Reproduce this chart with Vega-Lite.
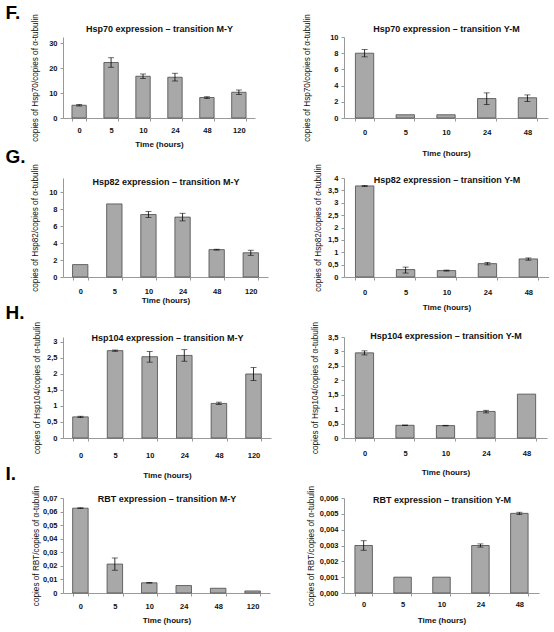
{
  "$schema": "https://vega.github.io/schema/vega-lite/v6.json",
  "padding": {"top": 3, "left": 5, "right": 0, "bottom": 0},
  "background": "white",
  "config": {
    "view": {"stroke": null},
    "font": "Liberation Sans",
    "axis": {"grid": false, "labelFont": "Liberation Sans", "labelFontWeight": "bold", "labelFontSize": 7.5, "labelColor": "#111", "titleFont": "Liberation Sans", "titleFontSize": 8.2, "titleColor": "#111", "domainColor": "#999", "tickColor": "#999", "labelOverlap": false, "labelFlush": false},
    "axisY": {"tickSize": 3, "labelPadding": 3, "titleFontWeight": "normal", "titleFontSize": 8.2},
    "axisX": {"ticks": true, "tickBand": "extent", "tickSize": 3, "labelAngle": 0, "titleFontWeight": "bold", "titleFont": "'Liberation Sans Narrow', 'Liberation Sans', sans-serif", "titleFontSize": 8},
    "axisTop": {"labels": false, "ticks": false, "domain": false, "titleBaseline": "alphabetic", "titleFont": "Liberation Sans", "titleFontSize": 9, "titleFontWeight": "bold", "titleColor": "#111"},
    "tick": {"color": "#000", "thickness": 0.8, "size": 6},
    "rule": {"color": "#000", "strokeWidth": 0.8}
  },
  "datasets": {
    "F1": [
      {"t": "0", "v": 5.1, "lo": 4.8, "hi": 5.4},
      {"t": "5", "v": 22.2, "lo": 20.3, "hi": 24.1},
      {"t": "10", "v": 16.7, "lo": 15.8, "hi": 17.6},
      {"t": "24", "v": 16.3, "lo": 14.8, "hi": 17.9},
      {"t": "48", "v": 8.2, "lo": 7.8, "hi": 8.5},
      {"t": "120", "v": 10.3, "lo": 9.4, "hi": 11.2}
    ],
    "F2": [
      {"t": "0", "v": 8.0, "lo": 7.55, "hi": 8.45},
      {"t": "5", "v": 0.4},
      {"t": "10", "v": 0.4},
      {"t": "24", "v": 2.4, "lo": 1.65, "hi": 3.1},
      {"t": "48", "v": 2.5, "lo": 2.05, "hi": 2.85}
    ],
    "G1": [
      {"t": "0", "v": 1.46},
      {"t": "5", "v": 8.6},
      {"t": "10", "v": 7.35, "lo": 7.0, "hi": 7.7},
      {"t": "24", "v": 7.05, "lo": 6.6, "hi": 7.5},
      {"t": "48", "v": 3.22, "lo": 3.17, "hi": 3.27},
      {"t": "120", "v": 2.85, "lo": 2.55, "hi": 3.15}
    ],
    "G2": [
      {"t": "0", "v": 3.68, "lo": 3.66, "hi": 3.7},
      {"t": "5", "v": 0.3, "lo": 0.16, "hi": 0.4},
      {"t": "10", "v": 0.26, "lo": 0.24, "hi": 0.28},
      {"t": "24", "v": 0.54, "lo": 0.49, "hi": 0.59},
      {"t": "48", "v": 0.73, "lo": 0.68, "hi": 0.77}
    ],
    "H1": [
      {"t": "0", "v": 0.66, "lo": 0.64, "hi": 0.68},
      {"t": "5", "v": 2.73, "lo": 2.71, "hi": 2.75},
      {"t": "10", "v": 2.54, "lo": 2.37, "hi": 2.7},
      {"t": "24", "v": 2.58, "lo": 2.4, "hi": 2.76},
      {"t": "48", "v": 1.08, "lo": 1.05, "hi": 1.12},
      {"t": "120", "v": 2.0, "lo": 1.8, "hi": 2.2}
    ],
    "H2": [
      {"t": "0", "v": 2.95, "lo": 2.88, "hi": 3.02},
      {"t": "5", "v": 0.44, "lo": 0.43, "hi": 0.45},
      {"t": "10", "v": 0.43, "lo": 0.42, "hi": 0.44},
      {"t": "24", "v": 0.92, "lo": 0.87, "hi": 0.96},
      {"t": "48", "v": 1.52}
    ],
    "I1": [
      {"t": "0", "v": 0.0625, "lo": 0.0622, "hi": 0.0628},
      {"t": "5", "v": 0.0213, "lo": 0.0168, "hi": 0.0258},
      {"t": "10", "v": 0.0075, "lo": 0.0073, "hi": 0.0077},
      {"t": "24", "v": 0.0055},
      {"t": "48", "v": 0.0035},
      {"t": "120", "v": 0.0015}
    ],
    "I2": [
      {"t": "0", "v": 0.003, "lo": 0.0027, "hi": 0.0033},
      {"t": "5", "v": 0.001},
      {"t": "10", "v": 0.001},
      {"t": "24", "v": 0.003, "lo": 0.0029, "hi": 0.0031},
      {"t": "48", "v": 0.00503, "lo": 0.00495, "hi": 0.0051}
    ]
  },
  "bounds": "flush",
  "columns": 2,
  "spacing": {"row": 60, "column": 73},
  "concat": [
    {
      "width": 192, "height": 81,
      "data": {"name": "F1"},
      "resolve": {"axis": {"x": "independent", "y": "independent"}},
      "layer": [
        {"mark": {"type": "bar", "fill": "#a8a8a8", "stroke": "#4a4a4a", "strokeWidth": 0.8},
         "encoding": {
           "x": {"field": "t", "type": "ordinal", "sort": null, "title": "Time (hours)", "scale": {"paddingInner": 0.55, "paddingOuter": 0.28}, "axis": {"labelPadding": 5, "titlePadding": 7}},
           "y": {"field": "v", "type": "quantitative", "title": "copies of Hsp70/copies of α-tubulin", "scale": {"domain": [0, 32.4], "nice": false}, "axis": {"values": [0, 10, 20, 30], "labelExpr": "replace(format(datum.value, '~g'), '.', ',')", "titlePadding": 9, "labelOverlap": false}}}},
        {"transform": [{"filter": "isValid(datum.lo)"}], "mark": "rule",
         "encoding": {"x": {"field": "t", "type": "ordinal", "sort": null, "axis": null}, "y": {"field": "lo", "type": "quantitative", "scale": {"domain": [0, 32.4], "nice": false}, "axis": null}, "y2": {"field": "hi"}}},
        {"transform": [{"filter": "isValid(datum.lo)"}], "mark": "tick",
         "encoding": {"x": {"field": "t", "type": "ordinal", "sort": null, "axis": null}, "y": {"field": "lo", "type": "quantitative", "scale": {"domain": [0, 32.4], "nice": false}, "axis": null}}},
        {"transform": [{"filter": "isValid(datum.lo)"}], "mark": "tick",
         "encoding": {"x": {"field": "t", "type": "ordinal", "sort": null, "axis": null}, "y": {"field": "hi", "type": "quantitative", "scale": {"domain": [0, 32.4], "nice": false}, "axis": null}}},
        {"mark": {"type": "point", "opacity": 0},
         "encoding": {"x": {"field": "t", "type": "ordinal", "sort": null, "axis": {"orient": "top", "title": "Hsp70 expression – transition M-Y", "titleY": -6}}, "y": {"field": "v", "type": "quantitative", "scale": {"domain": [0, 32.4], "nice": false}, "axis": null}}},
        {"mark": {"type": "point", "opacity": 0},
         "encoding": {"x": {"field": "t", "type": "ordinal", "sort": null, "axis": {"orient": "top", "title": "F.", "titleX": -58, "titleY": -19, "titleAlign": "left", "titleFontSize": 19, "titleColor": "#000"}}, "y": {"field": "v", "type": "quantitative", "scale": {"domain": [0, 32.4], "nice": false}, "axis": null}}}
      ]
    },
    {
      "width": 204, "height": 81,
      "data": {"name": "F2"},
      "resolve": {"axis": {"x": "independent", "y": "independent"}},
      "layer": [
        {"mark": {"type": "bar", "fill": "#a8a8a8", "stroke": "#4a4a4a", "strokeWidth": 0.8},
         "encoding": {
           "x": {"field": "t", "type": "ordinal", "sort": null, "title": "Time (hours)", "scale": {"paddingInner": 0.55, "paddingOuter": 0.28}, "axis": {"labelPadding": 7, "titlePadding": 14}},
           "y": {"field": "v", "type": "quantitative", "title": "copies of Hsp70/copies of α-tubulin", "scale": {"domain": [0, 10], "nice": false}, "axis": {"values": [0, 2, 4, 6, 8, 10], "labelExpr": "replace(format(datum.value, '~g'), '.', ',')", "titlePadding": 18, "labelOverlap": false}}}},
        {"transform": [{"filter": "isValid(datum.lo)"}], "mark": "rule",
         "encoding": {"x": {"field": "t", "type": "ordinal", "sort": null, "axis": null}, "y": {"field": "lo", "type": "quantitative", "scale": {"domain": [0, 10], "nice": false}, "axis": null}, "y2": {"field": "hi"}}},
        {"transform": [{"filter": "isValid(datum.lo)"}], "mark": "tick",
         "encoding": {"x": {"field": "t", "type": "ordinal", "sort": null, "axis": null}, "y": {"field": "lo", "type": "quantitative", "scale": {"domain": [0, 10], "nice": false}, "axis": null}}},
        {"transform": [{"filter": "isValid(datum.lo)"}], "mark": "tick",
         "encoding": {"x": {"field": "t", "type": "ordinal", "sort": null, "axis": null}, "y": {"field": "hi", "type": "quantitative", "scale": {"domain": [0, 10], "nice": false}, "axis": null}}},
        {"mark": {"type": "point", "opacity": 0},
         "encoding": {"x": {"field": "t", "type": "ordinal", "sort": null, "axis": {"orient": "top", "title": "Hsp70 expression – transition Y-M", "titleY": -6}}, "y": {"field": "v", "type": "quantitative", "scale": {"domain": [0, 10], "nice": false}, "axis": null}}}
      ]
    },
    {
      "width": 205, "height": 99,
      "data": {"name": "G1"},
      "resolve": {"axis": {"x": "independent", "y": "independent"}},
      "layer": [
        {"mark": {"type": "bar", "fill": "#a8a8a8", "stroke": "#4a4a4a", "strokeWidth": 0.8},
         "encoding": {
           "x": {"field": "t", "type": "ordinal", "sort": null, "title": "Time (hours)", "scale": {"paddingInner": 0.55, "paddingOuter": 0.28}, "axis": {"labelPadding": 7, "titlePadding": 2}},
           "y": {"field": "v", "type": "quantitative", "title": "copies of Hsp82/copies of α-tubulin", "scale": {"domain": [0, 11.65], "nice": false}, "axis": {"values": [0, 2, 4, 6, 8, 10], "labelExpr": "replace(format(datum.value, '~g'), '.', ',')", "titlePadding": 9, "labelOverlap": false}}}},
        {"transform": [{"filter": "isValid(datum.lo)"}], "mark": "rule",
         "encoding": {"x": {"field": "t", "type": "ordinal", "sort": null, "axis": null}, "y": {"field": "lo", "type": "quantitative", "scale": {"domain": [0, 11.65], "nice": false}, "axis": null}, "y2": {"field": "hi"}}},
        {"transform": [{"filter": "isValid(datum.lo)"}], "mark": "tick",
         "encoding": {"x": {"field": "t", "type": "ordinal", "sort": null, "axis": null}, "y": {"field": "lo", "type": "quantitative", "scale": {"domain": [0, 11.65], "nice": false}, "axis": null}}},
        {"transform": [{"filter": "isValid(datum.lo)"}], "mark": "tick",
         "encoding": {"x": {"field": "t", "type": "ordinal", "sort": null, "axis": null}, "y": {"field": "hi", "type": "quantitative", "scale": {"domain": [0, 11.65], "nice": false}, "axis": null}}},
        {"mark": {"type": "point", "opacity": 0},
         "encoding": {"x": {"field": "t", "type": "ordinal", "sort": null, "axis": {"orient": "top", "title": "Hsp82 expression – transition M-Y", "titleY": 6}}, "y": {"field": "v", "type": "quantitative", "scale": {"domain": [0, 11.65], "nice": false}, "axis": null}}},
        {"mark": {"type": "point", "opacity": 0},
         "encoding": {"x": {"field": "t", "type": "ordinal", "sort": null, "axis": {"orient": "top", "title": "G.", "titleX": -58, "titleY": -16, "titleAlign": "left", "titleFontSize": 19, "titleColor": "#000"}}, "y": {"field": "v", "type": "quantitative", "scale": {"domain": [0, 11.65], "nice": false}, "axis": null}}}
      ]
    },
    {
      "width": 205, "height": 99,
      "data": {"name": "G2"},
      "resolve": {"axis": {"x": "independent", "y": "independent"}},
      "layer": [
        {"mark": {"type": "bar", "fill": "#a8a8a8", "stroke": "#4a4a4a", "strokeWidth": 0.8},
         "encoding": {
           "x": {"field": "t", "type": "ordinal", "sort": null, "title": "Time (hours)", "scale": {"paddingInner": 0.55, "paddingOuter": 0.28}, "axis": {"labelPadding": 8, "titlePadding": 8}},
           "y": {"field": "v", "type": "quantitative", "title": "copies of Hsp82/copies of α-tubulin", "scale": {"domain": [0, 4], "nice": false}, "axis": {"values": [0, 0.5, 1, 1.5, 2, 2.5, 3, 3.5, 4], "labelExpr": "replace(format(datum.value, '~g'), '.', ',')", "titlePadding": 5, "labelOverlap": false}}}},
        {"transform": [{"filter": "isValid(datum.lo)"}], "mark": "rule",
         "encoding": {"x": {"field": "t", "type": "ordinal", "sort": null, "axis": null}, "y": {"field": "lo", "type": "quantitative", "scale": {"domain": [0, 4], "nice": false}, "axis": null}, "y2": {"field": "hi"}}},
        {"transform": [{"filter": "isValid(datum.lo)"}], "mark": "tick",
         "encoding": {"x": {"field": "t", "type": "ordinal", "sort": null, "axis": null}, "y": {"field": "lo", "type": "quantitative", "scale": {"domain": [0, 4], "nice": false}, "axis": null}}},
        {"transform": [{"filter": "isValid(datum.lo)"}], "mark": "tick",
         "encoding": {"x": {"field": "t", "type": "ordinal", "sort": null, "axis": null}, "y": {"field": "hi", "type": "quantitative", "scale": {"domain": [0, 4], "nice": false}, "axis": null}}},
        {"mark": {"type": "point", "opacity": 0},
         "encoding": {"x": {"field": "t", "type": "ordinal", "sort": null, "axis": {"orient": "top", "title": "Hsp82 expression – transition Y-M", "titleY": 4}}, "y": {"field": "v", "type": "quantitative", "scale": {"domain": [0, 4], "nice": false}, "axis": null}}}
      ]
    },
    {
      "width": 208, "height": 101,
      "data": {"name": "H1"},
      "resolve": {"axis": {"x": "independent", "y": "independent"}},
      "layer": [
        {"mark": {"type": "bar", "fill": "#a8a8a8", "stroke": "#4a4a4a", "strokeWidth": 0.8},
         "encoding": {
           "x": {"field": "t", "type": "ordinal", "sort": null, "title": "Time (hours)", "scale": {"paddingInner": 0.55, "paddingOuter": 0.28}, "axis": {"labelPadding": 10, "titlePadding": 13}},
           "y": {"field": "v", "type": "quantitative", "title": "copies of Hsp104/copies of α-tubulin", "scale": {"domain": [0, 3.156], "nice": false}, "axis": {"values": [0, 0.5, 1, 1.5, 2, 2.5, 3], "labelExpr": "replace(format(datum.value, '~g'), '.', ',')", "titlePadding": 5, "labelOverlap": false}}}},
        {"transform": [{"filter": "isValid(datum.lo)"}], "mark": "rule",
         "encoding": {"x": {"field": "t", "type": "ordinal", "sort": null, "axis": null}, "y": {"field": "lo", "type": "quantitative", "scale": {"domain": [0, 3.156], "nice": false}, "axis": null}, "y2": {"field": "hi"}}},
        {"transform": [{"filter": "isValid(datum.lo)"}], "mark": "tick",
         "encoding": {"x": {"field": "t", "type": "ordinal", "sort": null, "axis": null}, "y": {"field": "lo", "type": "quantitative", "scale": {"domain": [0, 3.156], "nice": false}, "axis": null}}},
        {"transform": [{"filter": "isValid(datum.lo)"}], "mark": "tick",
         "encoding": {"x": {"field": "t", "type": "ordinal", "sort": null, "axis": null}, "y": {"field": "hi", "type": "quantitative", "scale": {"domain": [0, 3.156], "nice": false}, "axis": null}}},
        {"mark": {"type": "point", "opacity": 0},
         "encoding": {"x": {"field": "t", "type": "ordinal", "sort": null, "axis": {"orient": "top", "title": "Hsp104 expression – transition M-Y", "titleY": 3}}, "y": {"field": "v", "type": "quantitative", "scale": {"domain": [0, 3.156], "nice": false}, "axis": null}}},
        {"mark": {"type": "point", "opacity": 0},
         "encoding": {"x": {"field": "t", "type": "ordinal", "sort": null, "axis": {"orient": "top", "title": "H.", "titleX": -58, "titleY": -19, "titleAlign": "left", "titleFontSize": 19, "titleColor": "#000"}}, "y": {"field": "v", "type": "quantitative", "scale": {"domain": [0, 3.156], "nice": false}, "axis": null}}}
      ]
    },
    {
      "width": 203, "height": 101,
      "data": {"name": "H2"},
      "resolve": {"axis": {"x": "independent", "y": "independent"}},
      "layer": [
        {"mark": {"type": "bar", "fill": "#a8a8a8", "stroke": "#4a4a4a", "strokeWidth": 0.8},
         "encoding": {
           "x": {"field": "t", "type": "ordinal", "sort": null, "title": "Time (hours)", "scale": {"paddingInner": 0.55, "paddingOuter": 0.28}, "axis": {"labelPadding": 8, "titlePadding": 12}},
           "y": {"field": "v", "type": "quantitative", "title": "copies of Hsp104/copies of α-tubulin", "scale": {"domain": [0, 3.5], "nice": false}, "axis": {"values": [0, 0.5, 1, 1.5, 2, 2.5, 3, 3.5], "labelExpr": "replace(format(datum.value, '~g'), '.', ',')", "titlePadding": 8, "labelOverlap": false}}}},
        {"transform": [{"filter": "isValid(datum.lo)"}], "mark": "rule",
         "encoding": {"x": {"field": "t", "type": "ordinal", "sort": null, "axis": null}, "y": {"field": "lo", "type": "quantitative", "scale": {"domain": [0, 3.5], "nice": false}, "axis": null}, "y2": {"field": "hi"}}},
        {"transform": [{"filter": "isValid(datum.lo)"}], "mark": "tick",
         "encoding": {"x": {"field": "t", "type": "ordinal", "sort": null, "axis": null}, "y": {"field": "lo", "type": "quantitative", "scale": {"domain": [0, 3.5], "nice": false}, "axis": null}}},
        {"transform": [{"filter": "isValid(datum.lo)"}], "mark": "tick",
         "encoding": {"x": {"field": "t", "type": "ordinal", "sort": null, "axis": null}, "y": {"field": "hi", "type": "quantitative", "scale": {"domain": [0, 3.5], "nice": false}, "axis": null}}},
        {"mark": {"type": "point", "opacity": 0},
         "encoding": {"x": {"field": "t", "type": "ordinal", "sort": null, "axis": {"orient": "top", "title": "Hsp104 expression – transition Y-M", "titleY": 1}}, "y": {"field": "v", "type": "quantitative", "scale": {"domain": [0, 3.5], "nice": false}, "axis": null}}}
      ]
    },
    {
      "width": 207, "height": 95,
      "data": {"name": "I1"},
      "resolve": {"axis": {"x": "independent", "y": "independent"}},
      "layer": [
        {"mark": {"type": "bar", "fill": "#a8a8a8", "stroke": "#4a4a4a", "strokeWidth": 0.8},
         "encoding": {
           "x": {"field": "t", "type": "ordinal", "sort": null, "title": "Time (hours)", "scale": {"paddingInner": 0.55, "paddingOuter": 0.28}, "axis": {"labelPadding": 6, "titlePadding": 7}},
           "y": {"field": "v", "type": "quantitative", "title": "copies of RBT/copies of α-tubulin", "scale": {"domain": [0, 0.07], "nice": false}, "axis": {"values": [0, 0.01, 0.02, 0.03, 0.04, 0.05, 0.06, 0.07], "labelExpr": "replace(format(datum.value, '~g'), '.', ',')", "titlePadding": 2, "labelOverlap": false}}}},
        {"transform": [{"filter": "isValid(datum.lo)"}], "mark": "rule",
         "encoding": {"x": {"field": "t", "type": "ordinal", "sort": null, "axis": null}, "y": {"field": "lo", "type": "quantitative", "scale": {"domain": [0, 0.07], "nice": false}, "axis": null}, "y2": {"field": "hi"}}},
        {"transform": [{"filter": "isValid(datum.lo)"}], "mark": "tick",
         "encoding": {"x": {"field": "t", "type": "ordinal", "sort": null, "axis": null}, "y": {"field": "lo", "type": "quantitative", "scale": {"domain": [0, 0.07], "nice": false}, "axis": null}}},
        {"transform": [{"filter": "isValid(datum.lo)"}], "mark": "tick",
         "encoding": {"x": {"field": "t", "type": "ordinal", "sort": null, "axis": null}, "y": {"field": "hi", "type": "quantitative", "scale": {"domain": [0, 0.07], "nice": false}, "axis": null}}},
        {"mark": {"type": "point", "opacity": 0},
         "encoding": {"x": {"field": "t", "type": "ordinal", "sort": null, "axis": {"orient": "top", "title": "RBT expression – transition M-Y", "titleY": 3}}, "y": {"field": "v", "type": "quantitative", "scale": {"domain": [0, 0.07], "nice": false}, "axis": null}}},
        {"mark": {"type": "point", "opacity": 0},
         "encoding": {"x": {"field": "t", "type": "ordinal", "sort": null, "axis": {"orient": "top", "title": "I.", "titleX": -58, "titleY": -19, "titleAlign": "left", "titleFontSize": 19, "titleColor": "#000"}}, "y": {"field": "v", "type": "quantitative", "scale": {"domain": [0, 0.07], "nice": false}, "axis": null}}}
      ]
    },
    {
      "width": 195, "height": 95,
      "data": {"name": "I2"},
      "resolve": {"axis": {"x": "independent", "y": "independent"}},
      "layer": [
        {"mark": {"type": "bar", "fill": "#a8a8a8", "stroke": "#4a4a4a", "strokeWidth": 0.8},
         "encoding": {
           "x": {"field": "t", "type": "ordinal", "sort": null, "title": "Time (hours)", "scale": {"paddingInner": 0.55, "paddingOuter": 0.28}, "axis": {"labelPadding": 4, "titlePadding": 9}},
           "y": {"field": "v", "type": "quantitative", "title": "copies of RBT/copies of α-tubulin", "scale": {"domain": [0, 0.006], "nice": false}, "axis": {"values": [0, 0.001, 0.002, 0.003, 0.004, 0.005, 0.006], "labelExpr": "replace(format(datum.value, '.3f'), '.', ',')", "titlePadding": 4, "labelOverlap": false}}}},
        {"transform": [{"filter": "isValid(datum.lo)"}], "mark": "rule",
         "encoding": {"x": {"field": "t", "type": "ordinal", "sort": null, "axis": null}, "y": {"field": "lo", "type": "quantitative", "scale": {"domain": [0, 0.006], "nice": false}, "axis": null}, "y2": {"field": "hi"}}},
        {"transform": [{"filter": "isValid(datum.lo)"}], "mark": "tick",
         "encoding": {"x": {"field": "t", "type": "ordinal", "sort": null, "axis": null}, "y": {"field": "lo", "type": "quantitative", "scale": {"domain": [0, 0.006], "nice": false}, "axis": null}}},
        {"transform": [{"filter": "isValid(datum.lo)"}], "mark": "tick",
         "encoding": {"x": {"field": "t", "type": "ordinal", "sort": null, "axis": null}, "y": {"field": "hi", "type": "quantitative", "scale": {"domain": [0, 0.006], "nice": false}, "axis": null}}},
        {"mark": {"type": "point", "opacity": 0},
         "encoding": {"x": {"field": "t", "type": "ordinal", "sort": null, "axis": {"orient": "top", "title": "RBT expression – transition Y-M", "titleY": 4}}, "y": {"field": "v", "type": "quantitative", "scale": {"domain": [0, 0.006], "nice": false}, "axis": null}}}
      ]
    }
  ]
}
